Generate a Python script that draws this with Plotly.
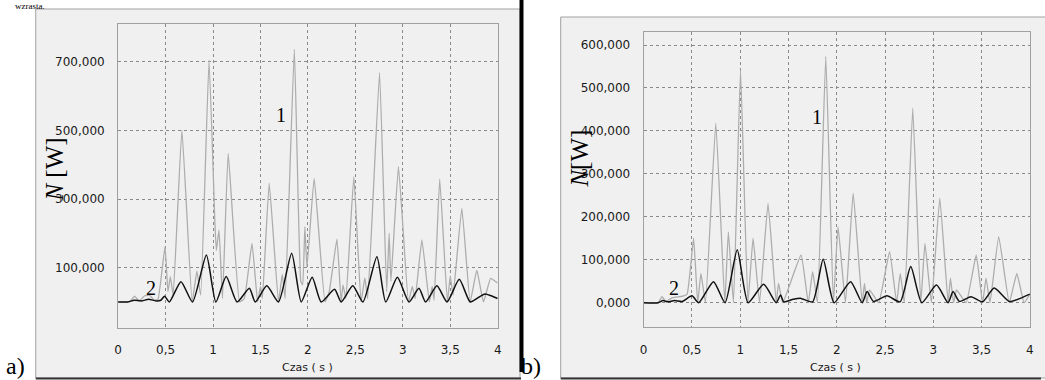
import plotly.graph_objects as go

W, H = 1045, 380

# ---------------- data ----------------
# panel a) curve 1 (grey)
a1_t = [0, 0.12, 0.175, 0.22, 0.28, 0.33, 0.38, 0.42, 0.494, 0.525, 0.55, 0.58, 0.672, 0.78, 0.83, 0.87,
        0.958, 1.02, 1.035, 1.063, 1.1, 1.16, 1.28, 1.33, 1.411, 1.47, 1.5, 1.52, 1.592, 1.69, 1.73, 1.76,
        1.857, 1.925, 1.945, 1.968, 1.99, 2.066, 2.18, 2.225, 2.306, 2.35, 2.37, 2.40, 2.484, 2.56, 2.6, 2.63,
        2.755, 2.83, 2.856, 2.875, 2.954, 3.06, 3.1, 3.13, 3.201, 3.28, 3.31, 3.33, 3.389, 3.47, 3.5, 3.53,
        3.622, 3.71, 3.78, 3.85, 3.926, 4.0]
a1_n = [0, 0, 17000, 2000, 18000, 20000, 5000, 8000, 161000, 30000, 74000, 20000, 501000, 0, 90000, 20000,
        705000, 230000, 150000, 210000, 10000, 433000, 0, 10000, 171000, 0, 45000, 10000, 346000, 0, 80000, 10000,
        736000, 60000, 50000, 219000, 100000, 360000, 0, 30000, 183000, 0, 50000, 10000, 365000, 0, 70000, 10000,
        668000, 30000, 200000, 60000, 394000, 0, 45000, 10000, 181000, 0, 45000, 5000, 358000, 0, 75000, 20000,
        273000, 0, 93000, 0, 69000, 55000]
# panel a) curve 2 (black)
a2_t = [0, 0.1, 0.17, 0.25, 0.32, 0.4, 0.45, 0.49, 0.54, 0.662, 0.784, 0.93, 1.03, 1.139, 1.254, 1.383, 1.445,
        1.567, 1.69, 1.829, 1.93, 2.045, 2.14, 2.281, 2.35, 2.473, 2.58, 2.727, 2.82, 2.943, 3.065, 3.17, 3.24,
        3.36, 3.466, 3.595, 3.71, 3.79, 3.866, 3.93, 4.0]
a2_n = [0, 0, 5000, 3000, 8000, 3000, 5000, 17000, 0, 59000, 0, 137000, 0, 74000, 0, 40000, 0,
        47000, 0, 142000, 0, 72000, 0, 37000, 0, 47000, 0, 132000, 0, 72000, 0, 40000, 0,
        47000, 0, 66000, 0, 12000, 23000, 18000, 10000]
# panel b) curve 1 (grey)
b1_t = [0, 0.15, 0.19, 0.23, 0.3, 0.4, 0.45, 0.517, 0.56, 0.593, 0.64, 0.747, 0.84, 0.877, 0.93, 1.003, 1.08,
        1.133, 1.20, 1.288, 1.373, 1.397, 1.44, 1.63, 1.705, 1.75, 1.80, 1.886, 1.965, 2.013, 2.09, 2.17, 2.263,
        2.287, 2.31, 2.34, 2.434, 2.547, 2.62, 2.657, 2.70, 2.787, 2.87, 2.913, 2.98, 3.067, 3.153, 3.177, 3.21,
        3.24, 3.34, 3.444, 3.51, 3.546, 3.587, 3.677, 3.786, 3.865, 3.94, 4.0]
b1_n = [0, 0, 14000, 3000, 12000, 15000, 20000, 150000, 0, 68000, 0, 418000, 0, 165000, 0, 542000, 0,
        150000, 0, 231000, 0, 45000, 0, 111000, 0, 72000, 0, 574000, 0, 177000, 0, 255000, 0,
        45000, 0, 30000, 0, 119000, 0, 68000, 0, 453000, 0, 138000, 0, 243000, 0, 57000, 0,
        30000, 0, 111000, 0, 57000, 0, 154000, 0, 68000, 0, 20000]
# panel b) curve 2 (black)
b2_t = [0, 0.15, 0.2, 0.25, 0.32, 0.4, 0.5, 0.57, 0.723, 0.843, 0.969, 1.082, 1.243, 1.373, 1.418, 1.45, 1.55,
        1.63, 1.75, 1.859, 1.972, 2.143, 2.263, 2.314, 2.38, 2.52, 2.656, 2.766, 2.88, 3.033, 3.153, 3.204, 3.27,
        3.39, 3.51, 3.63, 3.786, 3.9, 4.0]
b2_n = [0, 0, 5000, 2000, 5000, 3000, 16000, 0, 49000, 0, 123000, 0, 43000, 0, 18000, 2000, 8000,
        10000, 2000, 101000, 0, 49000, 0, 26000, 3000, 16000, 2000, 84000, 0, 41000, 0, 26000, 3000,
        14000, 2000, 34000, 3000, 10000, 20000]

x_ticks = [0, 0.5, 1, 1.5, 2, 2.5, 3, 3.5, 4]
x_labels = ["0", "0,5", "1", "1,5", "2", "2,5", "3", "3,5", "4"]
ya_ticks = [100000, 300000, 500000, 700000]
ya_labels = ["100,000", "300,000", "500,000", "700,000"]
yb_ticks = [0, 100000, 200000, 300000, 400000, 500000, 600000]
yb_labels = ["0,000", "100,000", "200,000", "300,000", "400,000", "500,000", "600,000"]

# ---------------- helpers ----------------
def px(x):
    return x / W

def py(y):
    return 1 - y / H

GREY = "#adadad"
BLACK = "#111111"
BG = "#f0f0f0"
GRID = "#8a8a8a"
SERIF = "Liberation Serif"
SANS = "DejaVu Sans"
TXT = "#1a1a1a"

fig = go.Figure()
fig.add_trace(go.Scatter(x=a1_t, y=a1_n, mode="lines",
                         line=dict(color=GREY, width=1.3, shape="spline", smoothing=0.35),
                         xaxis="x", yaxis="y", showlegend=False))
fig.add_trace(go.Scatter(x=a2_t, y=a2_n, mode="lines",
                         line=dict(color=BLACK, width=1.5, shape="spline", smoothing=0.6),
                         xaxis="x", yaxis="y", showlegend=False))
fig.add_trace(go.Scatter(x=b1_t, y=b1_n, mode="lines",
                         line=dict(color=GREY, width=1.3, shape="spline", smoothing=0.35),
                         xaxis="x2", yaxis="y2", showlegend=False))
fig.add_trace(go.Scatter(x=b2_t, y=b2_n, mode="lines",
                         line=dict(color=BLACK, width=1.5, shape="spline", smoothing=0.6),
                         xaxis="x2", yaxis="y2", showlegend=False))

axis_common = dict(showgrid=True, gridcolor=GRID, griddash="3px,3px", gridwidth=1,
                   showline=True, mirror=True, linecolor="#a0a0a0", linewidth=1,
                   zeroline=False, ticks="", tickfont=dict(family=SANS, size=12, color=TXT),
                   fixedrange=True)

shapes = [
    # outer frames
    dict(type="rect", xref="paper", yref="paper", x0=px(32), x1=px(520), y0=py(378), y1=py(9),
         fillcolor=BG, line=dict(color="#a0a0a0", width=1), layer="below"),
    dict(type="rect", xref="paper", yref="paper", x0=px(561), x1=px(1050), y0=py(378), y1=py(17),
         fillcolor=BG, line=dict(color="#a0a0a0", width=1), layer="below"),
    # dark bottom edges
    dict(type="line", xref="paper", yref="paper", x0=px(32), x1=px(521), y0=py(378.5), y1=py(378.5),
         line=dict(color="#333333", width=2)),
    dict(type="line", xref="paper", yref="paper", x0=px(561), x1=px(1045), y0=py(378.5), y1=py(378.5),
         line=dict(color="#333333", width=2)),
    # black bar between panels
    dict(type="rect", xref="paper", yref="paper", x0=px(519.5), x1=px(523.5), y0=py(372), y1=py(0),
         fillcolor="#000000", line=dict(width=0)),
]

def ann(text, x, y, font, xanchor="center", yanchor="middle", angle=0):
    return dict(text=text, x=px(x), y=py(y), xref="paper", yref="paper", showarrow=False,
                textangle=angle, font=font, xanchor=xanchor, yanchor=yanchor,
                borderpad=0)

f_title = dict(family=SANS, size=11, color=TXT)
f_ylab = dict(family=SERIF, size=25, color="#000000")
f_num = dict(family=SERIF, size=20, color="#000000")
f_panel = dict(family=SERIF, size=24, color="#000000")

annotations = [
    ann("Czas ( s )", 306, 367, f_title),
    ann("Czas ( s )", 838, 367, f_title),
    ann("<i>N</i> [W]", 50, 170, f_ylab, angle=-90),
    ann("<i>N</i>[W]", 579, 159, f_ylab, angle=-90),
    ann("1", 279, 115, f_num),
    ann("2", 148.5, 287.5, f_num),
    ann("1", 819, 116.5, f_num),
    ann("2", 675, 287.5, f_num),
    ann("a)", 1, 380, f_panel, xanchor="left", yanchor="bottom"),
    ann("b)", 520, 380, f_panel, xanchor="left", yanchor="bottom"),
    ann("wzrasta.", 10, 0, dict(family=SERIF, size=9, color="#000000"), xanchor="left", yanchor="top"),
]

fig.update_layout(
    width=W, height=H, autosize=False,
    margin=dict(l=0, r=0, t=0, b=0, pad=0),
    paper_bgcolor="#ffffff", plot_bgcolor=BG,
    xaxis=dict(domain=[px(115), px(497.5)], range=[0, 4], anchor="y",
               tickvals=x_ticks, ticktext=x_labels, ticklabelstandoff=11, **axis_common),
    yaxis=dict(domain=[py(327.7), py(24)], range=[-75000, 810000], anchor="x",
               tickvals=ya_ticks, ticktext=ya_labels, ticklabelstandoff=10, **axis_common),
    xaxis2=dict(domain=[px(644.6), px(1033.8)], range=[0, 4], anchor="y2",
                tickvals=x_ticks, ticktext=x_labels, ticklabelstandoff=11, **axis_common),
    yaxis2=dict(domain=[py(327.3), py(31.7)], range=[-57300, 631000], anchor="x2",
                tickvals=yb_ticks, ticktext=yb_labels, ticklabelstandoff=10, **axis_common),
    shapes=shapes, annotations=annotations,
)

fig.write_html("out.html", config={"displayModeBar": False},
               post_script="document.body.style.margin='0';document.body.style.overflow='hidden';")
